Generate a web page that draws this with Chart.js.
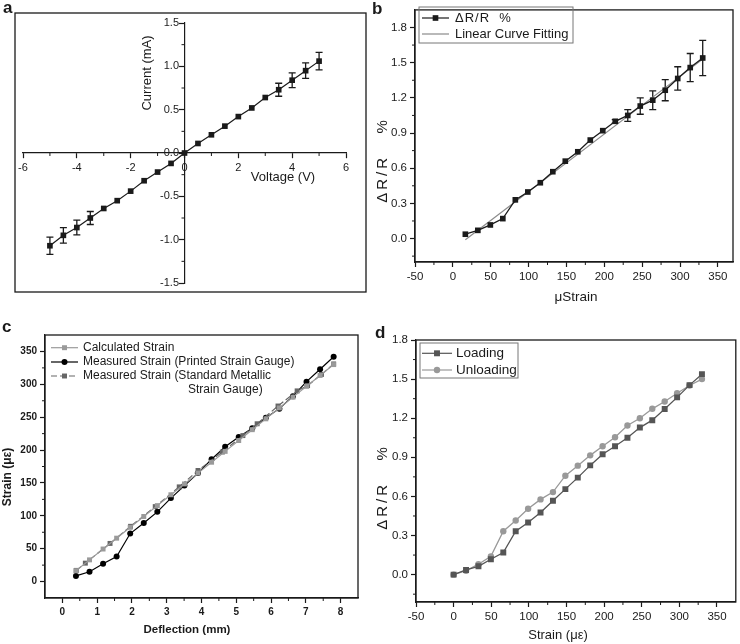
<!DOCTYPE html>
<html>
<head>
<meta charset="utf-8">
<script src="https://cdn.jsdelivr.net/npm/chart.js@4.4.1/dist/chart.umd.min.js"></script>
<style>
  html, body { margin: 0; padding: 0; background: #fff; }
  body { width: 740px; height: 644px; position: relative; overflow: hidden; }
  canvas { position: absolute; }
</style>
</head>
<body>
<canvas id="chartA" width="370" height="310" style="left:0;top:0"></canvas>
<canvas id="chartB" width="370" height="310" style="left:370px;top:0"></canvas>
<canvas id="chartC" width="370" height="334" style="left:0;top:310px"></canvas>
<canvas id="chartD" width="370" height="334" style="left:370px;top:310px"></canvas>
<script>
// (a) I-V curve
const ivVoltage = [-5, -4.5, -4, -3.5, -3, -2.5, -2, -1.5, -1, -0.5, 0, 0.5, 1, 1.5, 2, 2.5, 3, 3.5, 4, 4.5, 5];
const ivCurrent = [-1.07, -0.95, -0.86, -0.75, -0.64, -0.55, -0.44, -0.32, -0.22, -0.12, 0, 0.11, 0.21, 0.31, 0.42, 0.52, 0.64, 0.73, 0.84, 0.95, 1.06];
const ivError = [0.1, 0.09, 0.085, 0.075, 0, 0, 0, 0, 0, 0, 0, 0, 0, 0, 0, 0, 0, 0.075, 0.085, 0.09, 0.1];
const ivTicksX = [-6, -4, -2, 0, 2, 4, 6];
const ivTicksY = [-1.5, -1, -0.5, 0, 0.5, 1, 1.5];

// (b) gauge factor
const gfStrain = [16.5, 33, 49.5, 66, 82.5, 99, 115.5, 132, 148.5, 165, 181.5, 198, 214.5, 231, 247.5, 264, 280.5, 297, 313.5, 330];
const gfResist = [0.037, 0.07, 0.116, 0.17, 0.33, 0.397, 0.476, 0.57, 0.66, 0.74, 0.84, 0.92, 1.0, 1.05, 1.13, 1.18, 1.265, 1.365, 1.458, 1.54];
const gfError = [0, 0, 0, 0, 0, 0, 0, 0, 0, 0, 0, 0, 0.015, 0.05, 0.07, 0.08, 0.09, 0.1, 0.12, 0.15];
const fitStrain = [16.5, 330];
const fitResist = [-0.01, 1.53];
const strainTicks = [-50, 0, 50, 100, 150, 200, 250, 300, 350];
const resistTicks = [0, 0.3, 0.6, 0.9, 1.2, 1.5, 1.8];

// (c) strain vs deflection
const deflection = [0.39, 0.78, 1.17, 1.56, 1.95, 2.34, 2.73, 3.12, 3.51, 3.9, 4.29, 4.68, 5.07, 5.46, 5.85, 6.24, 6.63, 7.02, 7.41, 7.8];
const calcStrain = [16.5, 33, 49.5, 66, 82.5, 99, 115.5, 132, 148.5, 165, 181.5, 198, 214.5, 231, 247.5, 264, 280.5, 297, 313.5, 330];
const printedStrain = [8.6, 15, 27, 38, 73, 89, 106, 127, 146, 165, 186, 205, 220, 233, 249, 263, 282, 304, 323, 342];
const metalDefl = [0.4, 0.66, 1.37, 1.96, 2.67, 3.36, 3.9, 4.6, 5.19, 5.6, 6.2, 6.75, 7.05, 7.45, 7.8];
const metalStrain = [17, 28, 58, 84, 114, 144, 169, 197, 222, 240, 267, 290, 298, 315, 331];
const deflTicks = [0, 1, 2, 3, 4, 5, 6, 7, 8];
const strainTicksC = [0, 50, 100, 150, 200, 250, 300, 350];

// (d) loading / unloading
const hysStrain = [0, 16.5, 33, 49.5, 66, 82.5, 99, 115.5, 132, 148.5, 165, 181.5, 198, 214.5, 231, 247.5, 264, 280.5, 297, 313.5, 330];
const loading = [0, 0.036, 0.064, 0.118, 0.17, 0.333, 0.4, 0.477, 0.567, 0.656, 0.744, 0.838, 0.923, 0.985, 1.05, 1.128, 1.185, 1.27, 1.36, 1.454, 1.538];
const unloading = [0, 0.03, 0.08, 0.14, 0.333, 0.415, 0.505, 0.577, 0.633, 0.759, 0.836, 0.915, 0.985, 1.054, 1.144, 1.2, 1.272, 1.328, 1.392, 1.451, 1.5];

const FONT = '"Liberation Sans", Arial, sans-serif';
const INK = '#1a1a1a';
Chart.defaults.font.family = FONT;
Chart.defaults.color = INK;

const pts = (xs, ys) => xs.map((x, i) => ({ x, y: ys[i] }));

function scale(min, max, values, digits, font, fit, extra, suffix) {
    return Object.assign({
        type: 'linear', min, max,
        afterBuildTicks: s => { s.ticks = values.map(v => ({ value: v })); },
        afterFit: fit,
        ticks: { font, color: INK, padding: 3, maxRotation: 0, autoSkip: false,
                 callback: v => (digits == null ? String(v) : Number(v).toFixed(digits)) + (suffix || '') },
        grid: { drawOnChartArea: false, tickLength: 5, color: INK, tickWidth: 1.2 },
        border: { color: INK, width: 1.2 }
    }, extra || {});
}

function drawText(ctx, t) {
    ctx.save();
    ctx.font = t.font + ' ' + FONT;
    ctx.fillStyle = INK;
    ctx.textAlign = t.align || 'center';
    ctx.textBaseline = t.base || 'middle';
    if (t.ls) ctx.letterSpacing = t.ls + 'px';
    ctx.translate(t.x, t.y);
    if (t.rot) ctx.rotate(t.rot * Math.PI / 180);
    ctx.fillText(t.t, 0, 0);
    ctx.restore();
}

const decor = {
    id: 'decor',
    beforeDatasetsDraw(chart) {
        const ctx = chart.ctx, xs = chart.scales.x, ys = chart.scales.y;
        chart.data.datasets.forEach(ds => {
            if (!ds.errors) return;
            ctx.save();
            ctx.strokeStyle = INK;
            ctx.lineWidth = 1.3;
            ds.data.forEach((p, i) => {
                const e = ds.errors[i];
                if (!e) return;
                const px = xs.getPixelForValue(p.x);
                const y1 = ys.getPixelForValue(p.y + e), y2 = ys.getPixelForValue(p.y - e);
                ctx.beginPath();
                ctx.moveTo(px, y1); ctx.lineTo(px, y2);
                ctx.moveTo(px - 3.5, y1); ctx.lineTo(px + 3.5, y1);
                ctx.moveTo(px - 3.5, y2); ctx.lineTo(px + 3.5, y2);
                ctx.stroke();
            });
            ctx.restore();
        });
    },
    afterDraw(chart, args, o) {
        const ctx = chart.ctx, a = chart.chartArea;
        ctx.save();
        ctx.strokeStyle = INK;
        // minor ticks
        if (o.minor) {
            ctx.lineWidth = 1;
            ['x', 'y'].forEach(id => {
                const s = chart.scales[id], step = o.minor[id];
                if (!step) return;
                const pos = s.options.position;
                let base;
                if (typeof pos === 'object') {
                    const k = Object.keys(pos)[0];
                    base = chart.scales[k].getPixelForValue(pos[k]);
                } else base = id === 'x' ? a.bottom : a.left;
                const majors = s.ticks.map(t => t.value);
                const n0 = Math.ceil(s.min / step - 1e-6), n1 = Math.floor(s.max / step + 1e-6);
                for (let n = n0; n <= n1; n++) {
                    const v = n * step;
                    if (Math.abs(v - s.min) < 1e-6 || Math.abs(v - s.max) < 1e-6) continue;
                    if (majors.some(m => Math.abs(m - v) < 1e-6)) continue;
                    const p = s.getPixelForValue(v);
                    ctx.beginPath();
                    if (id === 'x') { ctx.moveTo(p, base); ctx.lineTo(p, base + 3); }
                    else { ctx.moveTo(base, p); ctx.lineTo(base - 3, p); }
                    ctx.stroke();
                }
            });
        }
        // frame
        if (o.frame) {
            ctx.lineWidth = 1.3;
            const f = o.frame === 'area' ? [a.left, a.top, a.right - a.left, a.bottom - a.top] : o.frame;
            ctx.strokeRect(f[0], f[1], f[2], f[3]);
        }
        // legend
        const lg = o.legend;
        if (lg) {
            if (lg.box) {
                ctx.lineWidth = 1;
                ctx.strokeStyle = '#777';
                ctx.strokeRect(lg.box[0], lg.box[1], lg.box[2], lg.box[3]);
            }
            lg.items.forEach((it, i) => {
                const y = lg.rows[i];
                ctx.save();
                ctx.strokeStyle = it.color;
                ctx.lineWidth = it.width || 1.2;
                if (it.dash) ctx.setLineDash(it.dash);
                ctx.beginPath();
                ctx.moveTo(lg.x0, y); ctx.lineTo(lg.x1, y);
                ctx.stroke();
                ctx.restore();
                if (it.style) {
                    ctx.save();
                    ctx.fillStyle = it.color;
                    ctx.strokeStyle = it.color;
                    Chart.helpers.drawPoint(ctx, { pointStyle: it.style, radius: it.r, rotation: 0, borderWidth: 0 },
                        (lg.x0 + lg.x1) / 2, y);
                    ctx.restore();
                }
                drawText(ctx, { t: it.text, x: lg.tx, y: y, font: lg.font, align: 'left', ls: it.ls });
            });
            (lg.extra || []).forEach(t => drawText(ctx, Object.assign({ font: lg.font, align: 'left' }, t)));
        }
        (o.texts || []).forEach(t => drawText(ctx, t));
        ctx.restore();
    }
};
Chart.register(decor);

const base = { responsive: false, animation: false, devicePixelRatio: 1 };
const noLegend = { legend: { display: false }, tooltip: { enabled: false } };

// ---------- a ----------
new Chart(document.getElementById('chartA'), {
    type: 'scatter',
    data: { datasets: [{
        data: pts(ivVoltage, ivCurrent), errors: ivError, showLine: true,
        borderColor: INK, borderWidth: 1.2, pointStyle: 'rect', pointRadius: 4,
        pointBackgroundColor: INK, pointBorderWidth: 0
    }] },
    options: Object.assign({}, base, {
        layout: { padding: { left: 23, right: 24, top: 23, bottom: 27 } },
        scales: {
            x: scale(-6, 6, ivTicksX, null, { size: 11 }, s => { s.height = 0; },
                { position: { y: 0 } }),
            y: scale(-1.5, 1.5, ivTicksY, 1, { size: 11 }, s => { s.width = 0; },
                { position: { x: 0 } }, '\u2002')
        },
        plugins: Object.assign({}, noLegend, { decor: {
            minor: { x: 1, y: 0.25 },
            frame: [15, 13, 351, 279],
            texts: [
                { t: 'a', x: 3, y: 13, font: 'bold 17px', align: 'left', base: 'alphabetic' },
                { t: 'Current (mA)', x: 147, y: 73, rot: -90, font: '13px' },
                { t: 'Voltage (V)', x: 283, y: 177, font: '13px' }
            ]
        } })
    })
});

// ---------- b ----------
new Chart(document.getElementById('chartB'), {
    type: 'scatter',
    data: { datasets: [{
        data: pts(gfStrain, gfResist), errors: gfError, showLine: true,
        borderColor: INK, borderWidth: 1.3, pointStyle: 'rect', pointRadius: 4,
        pointBackgroundColor: INK, pointBorderWidth: 0
    }, {
        data: pts(fitStrain, fitResist), showLine: true,
        borderColor: '#8a8a8a', borderWidth: 1.2, pointRadius: 0
    }] },
    options: Object.assign({}, base, {
        layout: { padding: { left: 0, right: 7, top: 8, bottom: 0 } },
        scales: {
            x: scale(-50, 370, strainTicks, null, { size: 11.5 }, s => { s.height = 48; }),
            y: scale(-0.2, 1.95, resistTicks, 1, { size: 11.5 }, s => { s.width = 45; })
        },
        plugins: Object.assign({}, noLegend, { decor: {
            minor: { x: 25, y: 0.15 },
            frame: 'area',
            legend: {
                box: [49, 7, 154, 36], rows: [18, 34], x0: 52, x1: 79, tx: 85, font: '13px',
                items: [
                    { text: 'ΔR/R  %', color: INK, style: 'rect', r: 4, ls: 1 },
                    { text: 'Linear Curve Fitting', color: '#8a8a8a' }
                ]
            },
            texts: [
                { t: 'b', x: 2, y: 14, font: 'bold 17px', align: 'left', base: 'alphabetic' },
                { t: 'ΔR/R   %', x: 13, y: 160, rot: -90, font: '15px', ls: 3 },
                { t: 'μStrain', x: 206, y: 297, font: '13.5px' }
            ]
        } })
    })
});

// ---------- c ----------
new Chart(document.getElementById('chartC'), {
    type: 'scatter',
    data: { datasets: [{
        data: pts(deflection, calcStrain), showLine: true,
        borderColor: '#9a9a9a', borderWidth: 1.2, pointStyle: 'rect', pointRadius: 3.5,
        pointBackgroundColor: '#9a9a9a', pointBorderWidth: 0
    }, {
        data: pts(metalDefl, metalStrain), showLine: true, borderDash: [6, 3],
        borderColor: '#666', borderWidth: 1.2, pointStyle: 'rect', pointRadius: 3.5,
        pointBackgroundColor: '#666', pointBorderWidth: 0
    }, {
        data: pts(deflection, printedStrain), showLine: true,
        borderColor: '#000', borderWidth: 1.2, pointStyle: 'circle', pointRadius: 3,
        pointBackgroundColor: '#000', pointBorderWidth: 0
    }] },
    options: Object.assign({}, base, {
        layout: { padding: { left: 0, right: 12, top: 25, bottom: 0 } },
        scales: {
            x: scale(-0.5, 8.5, deflTicks, null, { size: 10, weight: 'bold' }, s => { s.height = 46; }),
            y: scale(-25, 375, strainTicksC, null, { size: 10, weight: 'bold' }, s => { s.width = 45; })
        },
        plugins: Object.assign({}, noLegend, { decor: {
            minor: { x: 0.5, y: 25 },
            frame: 'area',
            legend: {
                rows: [37.7, 52, 66], x0: 51, x1: 78, tx: 83, font: '12px',
                items: [
                    { text: 'Calculated Strain', color: '#9a9a9a', style: 'rect', r: 3.5 },
                    { text: 'Measured Strain (Printed Strain Gauge)', color: '#000', style: 'circle', r: 3 },
                    { text: 'Measured Strain (Standard Metallic', color: '#666', style: 'rect', r: 3.5, dash: [6, 3] }
                ],
                extra: [{ t: 'Strain Gauge)', x: 188, y: 80 }]
            },
            texts: [
                { t: 'c', x: 2, y: 22, font: 'bold 17px', align: 'left', base: 'alphabetic' },
                { t: 'Strain (με)', x: 8, y: 167, rot: -90, font: 'bold 12px' },
                { t: 'Deflection (mm)', x: 187, y: 320, font: 'bold 11.5px' }
            ]
        } })
    })
});

// ---------- d ----------
new Chart(document.getElementById('chartD'), {
    type: 'scatter',
    data: { datasets: [{
        data: pts(hysStrain, loading), showLine: true,
        borderColor: '#555', borderWidth: 1.3, pointStyle: 'rect', pointRadius: 4.2,
        pointBackgroundColor: '#555', pointBorderWidth: 0
    }, {
        data: pts(hysStrain, unloading), showLine: true,
        borderColor: '#999', borderWidth: 1.3, pointStyle: 'circle', pointRadius: 3.2,
        pointBackgroundColor: '#999', pointBorderWidth: 0
    }] },
    options: Object.assign({}, base, {
        layout: { padding: { left: 0, right: 2, top: 30, bottom: 0 } },
        scales: {
            x: scale(-50, 375, strainTicks, null, { size: 11.5 }, s => { s.height = 42; }),
            y: scale(-0.21, 1.8, resistTicks, 1, { size: 11.5 }, s => { s.width = 46; })
        },
        plugins: Object.assign({}, noLegend, { decor: {
            minor: { x: 25, y: 0.15 },
            frame: 'area',
            legend: {
                box: [50, 33, 98, 35], rows: [43.3, 60], x0: 52, x1: 82, tx: 86, font: '13.5px',
                items: [
                    { text: 'Loading', color: '#555', style: 'rect', r: 4.2 },
                    { text: 'Unloading', color: '#999', style: 'circle', r: 3.2 }
                ]
            },
            texts: [
                { t: 'd', x: 5, y: 28, font: 'bold 17px', align: 'left', base: 'alphabetic' },
                { t: 'ΔR/R   %', x: 12.5, y: 177, rot: -90, font: '15px', ls: 3 },
                { t: 'Strain (με)', x: 188, y: 325, font: '13px' }
            ]
        } })
    })
});
</script>
</body>
</html>
